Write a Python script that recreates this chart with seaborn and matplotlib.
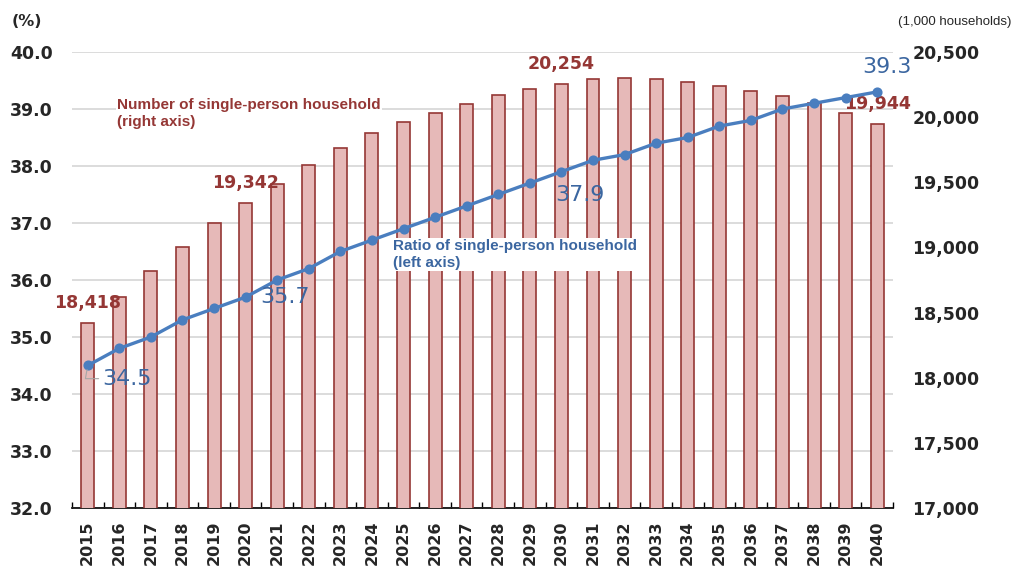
import numpy as np
import matplotlib
matplotlib.use("Agg")
import matplotlib.pyplot as plt
import seaborn as sns

years = [str(y) for y in range(2015, 2041)]
households = [18418, 18622, 18821, 19006, 19185, 19342, 19487, 19630, 19763, 19881,
              19965, 20034, 20103, 20172, 20213, 20254, 20290, 20298, 20290, 20267,
              20241, 20203, 20160, 20106, 20034, 19944]
ratio = [34.5, 34.8, 35.0, 35.3, 35.5, 35.7, 36.0, 36.2, 36.5, 36.7,
         36.9, 37.1, 37.3, 37.5, 37.7, 37.9, 38.1, 38.2, 38.4, 38.5,
         38.7, 38.8, 39.0, 39.1, 39.2, 39.3]
left_ticks = [32, 33, 34, 35, 36, 37, 38, 39, 40]
right_ticks = [17000, 17500, 18000, 18500, 19000, 19500, 20000, 20500]
household_labels = ["2015", "2020", "2030", "2040"]
ratio_labels = {"2015": (28, -9.5), "2020": (28, 0), "2030": (13, -16.5), "2040": (7, 18)}

RED = "#953735"
PINK = "#e6b9b8"
BLUE = "#4a7ebf"
BLUE_TXT = "#3b66a0"


def main():
    sns.set_style("white")
    plt.rcParams["font.family"] = ["DejaVu Sans"]

    fig = plt.figure(figsize=(10.12, 5.67), dpi=100)
    ax = fig.add_axes([0.0711, 0.1041, 0.8113, 0.8042])
    ax2 = ax.twinx()
    ax3 = ax.twinx()

    # bars (right axis)
    sns.barplot(x=years, y=households, ax=ax2, color=PINK, saturation=1,
                width=0.41, edgecolor=RED, linewidth=1.2, zorder=2)
    ax2.set_ylim(17000, 20500)
    ax2.set_yticks(right_ticks)
    ax2.set_yticklabels([f"{v:,}" for v in right_ticks], fontsize=12.5, fontweight="bold")
    ax2.tick_params(axis="y", length=0, pad=14)

    for i, (yr, v) in enumerate(zip(years, households)):
        if yr in household_labels:
            ax2.annotate(f"{v:,}", xy=(i, v), xytext=(0, 14.5), textcoords="offset points",
                         ha="center", va="center", color=RED, fontsize=12.5,
                         fontweight="bold")

    # line (left axis)
    sns.pointplot(x=years, y=ratio, ax=ax3, color=BLUE, markers="o",
                  markersize=5.5, linewidth=2.4, errorbar=None)
    ax3.set_ylim(32, 40)
    ax3.set_yticks([])
    for i, (yr, v) in enumerate(zip(years, ratio)):
        if yr in ratio_labels:
            kw = {}
            if yr == "2015":
                kw["arrowprops"] = dict(arrowstyle="-", color="#a6a6a6", lw=0.8,
                                        shrinkA=0, shrinkB=3,
                                        connectionstyle="angle,angleA=0,angleB=80")
            ax3.annotate(f"{v:.1f}", xy=(i, v), xytext=ratio_labels[yr],
                         textcoords="offset points", ha="center", va="center",
                         color=BLUE_TXT, fontsize=16, **kw)

    ax3.text(0.925, 38.92, "Number of single-person household\n(right axis)",
             color=RED, fontsize=11, fontweight="bold", family=["Liberation Sans"],
             ha="left", va="center", linespacing=1.3, zorder=5,
             bbox=dict(facecolor="white", edgecolor="none", pad=1))
    ax3.text(9.66, 36.45, "Ratio of single-person household\n(left axis)",
             color=BLUE_TXT, fontsize=11, fontweight="bold", family=["Liberation Sans"],
             ha="left", va="center", linespacing=1.25, zorder=1,
             bbox=dict(facecolor="white", edgecolor="none", pad=1))

    # left axis with grid
    ax.set_ylim(32, 40)
    ax.set_yticks(left_ticks)
    ax.set_yticklabels([f"{v:.1f}" for v in left_ticks], fontsize=12.5, fontweight="bold")
    ax.tick_params(axis="y", length=0, pad=14)
    ax.yaxis.grid(True, color="#d9d9d9", linewidth=1.3)
    ax.xaxis.grid(False)
    ax.set_axisbelow(True)

    ax.set_xlim(-0.5, len(years) - 0.5)
    ax.set_xticks(range(len(years)))
    ax.set_xticklabels(years, rotation=90, fontsize=11.5, fontweight="bold")
    ax.set_xticks(np.arange(-0.5, len(years)), minor=True)
    ax.tick_params(axis="x", which="major", length=0, pad=9)
    ax.tick_params(axis="x", which="minor", length=4, width=1, direction="in",
                   color="black", bottom=True)

    for a in (ax, ax2, ax3):
        for side in ("top", "left", "right"):
            a.spines[side].set_visible(False)
        a.spines["bottom"].set_visible(False)
        a.set_xlabel("")
        a.set_ylabel("")
    ax.spines["bottom"].set_visible(True)
    ax.spines["bottom"].set_color("black")
    ax.spines["bottom"].set_linewidth(1.2)

    fig.text(27 / 1012, 1 - 22 / 567, "(%)", ha="center", va="center",
             fontsize=11.5, fontweight="bold")
    fig.text(1011 / 1012, 1 - 22 / 567, "(1,000 households)", ha="right", va="center",
             fontsize=9.5, family=["Liberation Sans"])

    fig.savefig("out.png", dpi=100)
    plt.close(fig)


if __name__ == "__main__":
    main()
